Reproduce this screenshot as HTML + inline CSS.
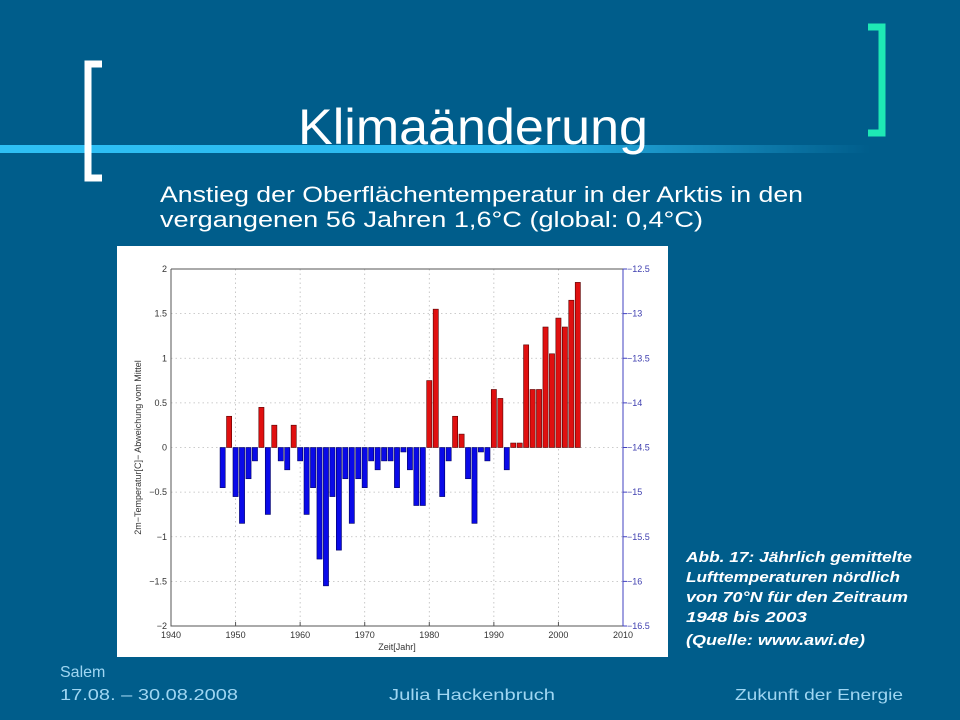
<!DOCTYPE html>
<html><head><meta charset="utf-8"><style>
html,body{margin:0;padding:0;background:#005d8b;}
svg{display:block;font-family:"Liberation Sans",sans-serif;}
</style></head><body>
<svg width="960" height="720" viewBox="0 0 960 720">
<defs>
<linearGradient id="bar" x1="0" x2="1" y1="0" y2="0">
<stop offset="0" stop-color="#2ec0f5"/><stop offset="0.6" stop-color="#2ab8ee"/><stop offset="1" stop-color="#005d8b"/>
</linearGradient>
</defs>
<rect width="960" height="720" fill="#005d8b"/>
<rect x="0" y="145" width="870" height="8" fill="url(#bar)"/>
<path d="M102 64 H88 V178 H102" fill="none" stroke="#ffffff" stroke-width="7"/>
<path d="M868 27 H882 V133 H868" fill="none" stroke="#1ee8b5" stroke-width="7"/>
<text x="473" y="144" text-anchor="middle" font-size="50" fill="#fff" textLength="350" lengthAdjust="spacingAndGlyphs">Klimaänderung</text>
<text x="160" y="202" font-size="22" fill="#fff" textLength="643" lengthAdjust="spacingAndGlyphs">Anstieg der Oberflächentemperatur in der Arktis in den</text>
<text x="160" y="227" font-size="22" fill="#fff" textLength="543" lengthAdjust="spacingAndGlyphs">vergangenen 56 Jahren 1,6°C  (global: 0,4°C)</text>

<rect x="117" y="246" width="551" height="411" fill="#fff"/>
<g id="chart"></g>

<g font-style="italic" font-weight="bold" font-size="15" fill="#fff">
<text x="686" y="562" textLength="226" lengthAdjust="spacingAndGlyphs">Abb. 17: Jährlich gemittelte</text>
<text x="686" y="582" textLength="214" lengthAdjust="spacingAndGlyphs">Lufttemperaturen nördlich</text>
<text x="686" y="602" textLength="222" lengthAdjust="spacingAndGlyphs">von 70°N für den Zeitraum</text>
<text x="686" y="622" textLength="121" lengthAdjust="spacingAndGlyphs">1948 bis 2003</text>
<text x="686" y="645" textLength="179" lengthAdjust="spacingAndGlyphs">(Quelle: www.awi.de)</text>
</g>
<g font-size="16" fill="#9fd6f2">
<text x="60" y="677">Salem</text>
<text x="60" y="700" textLength="178" lengthAdjust="spacingAndGlyphs">17.08. – 30.08.2008</text>
<text x="472" y="700" text-anchor="middle" textLength="166" lengthAdjust="spacingAndGlyphs">Julia Hackenbruch</text>
<text x="903" y="700" text-anchor="end" textLength="168" lengthAdjust="spacingAndGlyphs">Zukunft der Energie</text>
</g>
</svg>
<script>
const years = [];
for (let y = 1948; y <= 2003; y++) years.push(y);
const values = [-0.45,0.35,-0.55,-0.85,-0.35,-0.15,0.45,-0.75,0.25,-0.15,-0.25,0.25,
-0.15,-0.75,-0.45,-1.25,-1.55,-0.55,-1.15,-0.35,-0.85,-0.35,
-0.45,-0.15,-0.25,-0.15,-0.15,-0.45,-0.05,-0.25,-0.65,-0.65,
0.75,1.55,-0.55,-0.15,0.35,0.15,-0.35,-0.85,-0.05,-0.15,
0.65,0.55,-0.25,0.05,0.05,1.15,0.65,0.65,1.35,1.05,1.45,1.35,1.65,1.85];
const xTicks = [1940,1950,1960,1970,1980,1990,2000,2010];
const yTicks = [-2,-1.5,-1,-0.5,0,0.5,1,1.5,2];
const yTickLabels = ["−2","−1.5","−1","−0.5","0","0.5","1","1.5","2"];
const y2Ticks = [-16.5,-16,-15.5,-15,-14.5,-14,-13.5,-13,-12.5];
const y2TickLabels = ["−16.5","−16","−15.5","−15","−14.5","−14","−13.5","−13","−12.5"];

const NS = "http://www.w3.org/2000/svg";
const L = 171, R = 623, T = 269, B = 626;
const xs = v => L + (v - 1940) / 70 * (R - L);
const ys = v => B - (v + 2) / 4 * (B - T);
const y2s = v => B - (v + 16.5) / 4 * (B - T);
const chartG = document.getElementById('chart');
function mk(tag, attrs, txt) {
  const e = document.createElementNS(NS, tag);
  for (const k in attrs) e.setAttribute(k, attrs[k]);
  if (txt !== undefined) e.textContent = txt;
  chartG.appendChild(e);
  return e;
}
xTicks.forEach((t, i) => {
  if (i > 0 && i < xTicks.length - 1) {
    const e = mk('line', {x1: xs(t), x2: xs(t), y1: T, y2: B, stroke: '#bbb', 'stroke-width': 0.8, 'stroke-dasharray': '1.5,3'});
    
    
  }
  const tk = mk('line', {x1: xs(t), x2: xs(t), y1: B, y2: B - 4, stroke: '#555'});
  
  
  const lb = mk('text', {x: xs(t), y: B + 12, 'text-anchor': 'middle', 'font-size': 9, fill: '#333'}, t);
  
  
});
yTicks.forEach((t, i) => {
  if (i > 0 && i < yTicks.length - 1) {
    const e = mk('line', {x1: L, x2: R, y1: ys(t), y2: ys(t), stroke: '#bbb', 'stroke-width': 0.8, 'stroke-dasharray': '1.5,3'});
    
    
  }
  const lb = mk('text', {x: L - 4, y: ys(t) + 3, 'text-anchor': 'end', 'font-size': 9, fill: '#333'}, yTickLabels[i]);
  
  
});
y2Ticks.forEach((t, i) => {
  const tk = mk('line', {x1: R, x2: R + 4, y1: y2s(t), y2: y2s(t), stroke: '#4040c0'});
  
  
  const lb = mk('text', {x: R + 4, y: y2s(t) + 3, 'font-size': 9, fill: '#4040b0'}, y2TickLabels[i]);
  
  
});
const bw = (R - L) / 70 * 0.8;
values.forEach((v, i) => {
  const x = xs(years[i]) - bw / 2;
  const y0 = ys(0), y1 = ys(v);
  const r = mk('rect', {x: x, y: Math.min(y0, y1), width: bw, height: Math.abs(y1 - y0),
    fill: v >= 0 ? '#e01010' : '#0a0ae8', stroke: v >= 0 ? '#500' : '#000060', 'stroke-width': 0.6});
  
  
});
const axPath = mk('path', {d: `M${L} ${T} V${B} H${R}`, fill: 'none', stroke: '#555', 'stroke-width': 1});


const axRight = mk('line', {x1: R, x2: R, y1: T, y2: B, stroke: '#4040c0', 'stroke-width': 1});


const topBorder = mk('line', {x1: L, x2: R, y1: T, y2: T, stroke: '#555', 'stroke-width': 1});


const xTitle = mk('text', {x: (L + R) / 2, y: B + 24, 'text-anchor': 'middle', 'font-size': 9, fill: '#333'}, 'Zeit[Jahr]');


const yTitle = mk('text', {x: 0, y: 0, 'text-anchor': 'middle', 'font-size': 9, fill: '#333', transform: `translate(141 ${(T + B) / 2}) rotate(-90)`}, '2m−Temperatur[C]− Abweichung vom Mittel');


</script>
</body></html>
